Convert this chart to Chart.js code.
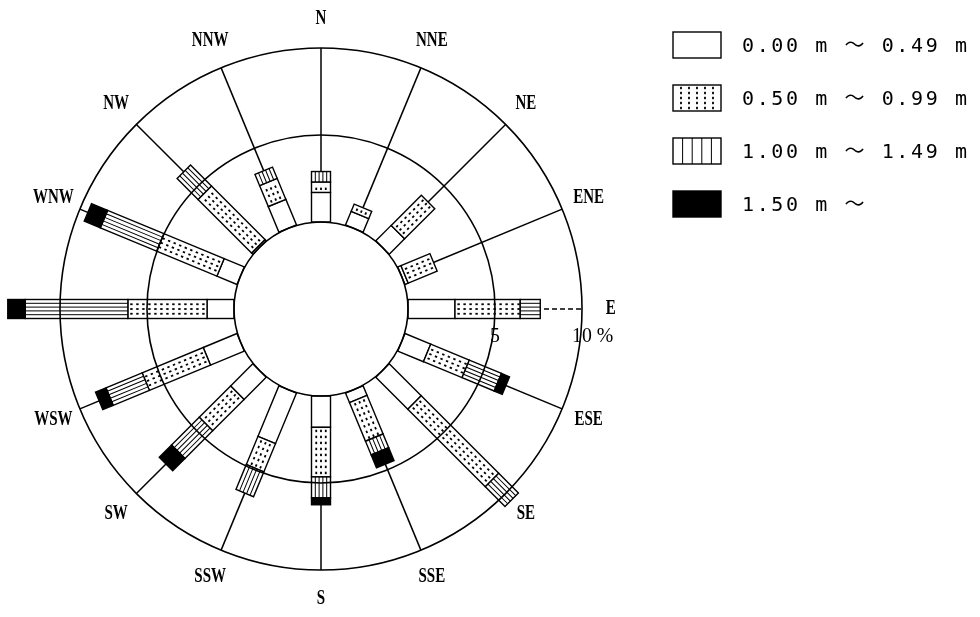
<!DOCTYPE html>
<html>
<head>
<meta charset="utf-8">
<script src="https://cdn.jsdelivr.net/npm/chart.js@4"></script>
<style>
  html, body { margin: 0; padding: 0; background: #fff; }
  #wrap { width: 980px; height: 617px; }
</style>
</head>
<body>
<div id="wrap"><canvas id="rose" width="980" height="617"></canvas></div>
<script>
// wave direction / height frequency (%)
var directions = ['N','NNE','NE','ENE','E','ESE','SE','SSE','S','SSW','SW','WSW','W','WNW','NW','NNW'];
var classLabels = ['0.00 m \u301C 0.49 m', '0.50 m \u301C 0.99 m', '1.00 m \u301C 1.49 m', '1.50 m \u301C'];

var h000 = [1.7, 0.85, 1.25, 0.2, 2.7, 1.6, 2.6, 0.6, 1.8, 3.15, 1.8, 2.1, 1.55, 1.25, 0.1, 1.6];
var h050 = [0.6, 0.45, 2.45, 1.8, 3.75, 2.4, 6.3, 2.4, 2.85, 1.75, 2.55, 3.8, 4.55, 3.75, 4.35, 1.3];
var h100 = [0.6, 0, 0, 0, 1.15, 2.0, 1.6, 0.85, 1.2, 1.55, 2.25, 2.25, 5.9, 3.5, 1.7, 0.7];
var h150 = [0, 0, 0, 0, 0, 0.5, 0, 0.8, 0.4, 0, 1.0, 0.65, 1.0, 1.0, 0, 0];

var ringValues = [0, 5, 10];
var tickValues = [5, 10];
var tickLabels = ['5', '10 %'];
var hiddenLabels = ['W'];

var BAR_W = 19;

function paintSegment(ctx, kind, len, w, gap) {
  // local coords: x runs along the bar, y across it
  ctx.fillStyle = kind === 3 ? '#000' : '#fff';
  ctx.fillRect(0, -w / 2, len, w);
  ctx.fillStyle = '#000';
  ctx.strokeStyle = '#000';
  var n, step, k, y, x;
  if (kind === 1) {
    n = Math.round(w / gap.dot);
    step = w / n;
    for (k = 1; k < n; k++) {
      y = -w / 2 + k * step;
      for (x = gap.along * 0.6; x < len - 1.5; x += gap.along) {
        ctx.fillRect(x - 1.2, y - 0.9, 2.4, 1.8);
      }
    }
  }
  if (kind === 2) {
    n = Math.round(w / gap.line);
    step = w / n;
    ctx.lineWidth = 1;
    ctx.beginPath();
    for (k = 1; k < n; k++) {
      y = -w / 2 + k * step;
      ctx.moveTo(0, y);
      ctx.lineTo(len, y);
    }
    ctx.stroke();
  }
  ctx.lineWidth = 1.4;
  ctx.strokeRect(0, -w / 2, len, w);
}

var rosePlugin = {
  id: 'rose',
  afterDatasetsDraw: function(chart) {
    var ctx = chart.ctx;
    var r = chart.scales.r;
    ctx.save();
    // direction axes from the calm circle out to 10 %
    ctx.strokeStyle = '#000';
    ctx.lineWidth = 1.5;
    directions.forEach(function(d, i) {
      var a = r.getPointPositionForValue(i, 0);
      var b = r.getPointPositionForValue(i, 10);
      ctx.setLineDash(d === 'E' ? [5, 3] : []);
      ctx.beginPath();
      ctx.moveTo(a.x, a.y);
      ctx.lineTo(b.x, b.y);
      ctx.stroke();
    });
    ctx.setLineDash([]);
    // stacked bars
    var sets = chart.data.datasets;
    directions.forEach(function(d, i) {
      var cum = 0;
      sets.forEach(function(ds, c) {
        var v = ds.data[i];
        if (!v) return;
        var p0 = r.getPointPositionForValue(i, cum);
        var p1 = r.getPointPositionForValue(i, cum + v);
        var len = Math.hypot(p1.x - p0.x, p1.y - p0.y);
        ctx.save();
        ctx.translate(p0.x, p0.y);
        ctx.rotate(Math.atan2(p1.y - p0.y, p1.x - p0.x));
        paintSegment(ctx, c, len, BAR_W, {dot: 5, along: 6, line: 4});
        ctx.restore();
        cum += v;
      });
    });
    ctx.restore();
  },
  afterDraw: function(chart) {
    var ctx = chart.ctx;
    var r = chart.scales.r;
    ctx.save();
    ctx.fillStyle = '#000';
    ctx.textAlign = 'center';
    ctx.textBaseline = 'middle';
    // direction labels
    ctx.font = 'bold 20px "Liberation Serif"';
    directions.forEach(function(d, i) {
      if (hiddenLabels.indexOf(d) >= 0) return;
      var p = r.getPointPositionForValue(i, 11.65);
      ctx.save();
      ctx.translate(p.x, p.y);
      ctx.scale(0.75, 1);
      ctx.fillText(d, 0, 0);
      ctx.restore();
    });
    // scale labels along E
    var east = directions.indexOf('E');
    ctx.font = '22px "Liberation Serif"';
    tickValues.forEach(function(v, k) {
      var p = r.getPointPositionForValue(east, v);
      ctx.save();
      ctx.translate(p.x, p.y + 27);
      ctx.scale(0.9, 1);
      if (k === 0) {
        ctx.textAlign = 'center';
        ctx.fillText(tickLabels[k], 0, 0);
      } else {
        ctx.textAlign = 'left';
        ctx.fillText(tickLabels[k], -11, 0);
      }
      ctx.restore();
    });
    // legend
    ctx.font = '20px "DejaVu Sans Mono", "Noto Sans CJK JP"';
    ctx.textAlign = 'left';
    ctx.letterSpacing = '2.6px';
    classLabels.forEach(function(t, c) {
      var cy = 45 + c * 53;
      ctx.save();
      ctx.translate(673 + 24, cy + 13);
      ctx.rotate(-Math.PI / 2);
      paintSegment(ctx, c, 26, 48, {dot: 8, along: 5, line: 9.6});
      ctx.restore();
      ctx.fillText(t, 742, cy + 2);
    });
    ctx.restore();
  }
};

new Chart(document.getElementById('rose'), {
  type: 'radar',
  data: {
    labels: directions,
    datasets: [h000, h050, h100, h150].map(function(arr, c) {
      return {
        label: classLabels[c],
        data: arr,
        showLine: false,
        fill: false,
        pointRadius: 0,
        borderWidth: 0,
        backgroundColor: 'rgba(0,0,0,0)',
        borderColor: 'rgba(0,0,0,0)'
      };
    })
  },
  options: {
    responsive: false,
    animation: false,
    events: [],
    layout: { padding: { left: 13, top: 1, right: 351, bottom: 0 } },
    plugins: { legend: { display: false }, tooltip: { enabled: false } },
    scales: {
      r: {
        min: -5,
        max: 12.7,
        angleLines: { display: false },
        pointLabels: { display: false },
        ticks: { display: false, stepSize: 5, z: 1 },
        grid: {
          z: 1,
          circular: true,
          lineWidth: 1.6,
          color: function(c) {
            return c.tick && ringValues.indexOf(c.tick.value) >= 0 ? '#000' : 'rgba(0,0,0,0)';
          }
        }
      }
    }
  },
  plugins: [rosePlugin]
});
</script>
</body>
</html>
